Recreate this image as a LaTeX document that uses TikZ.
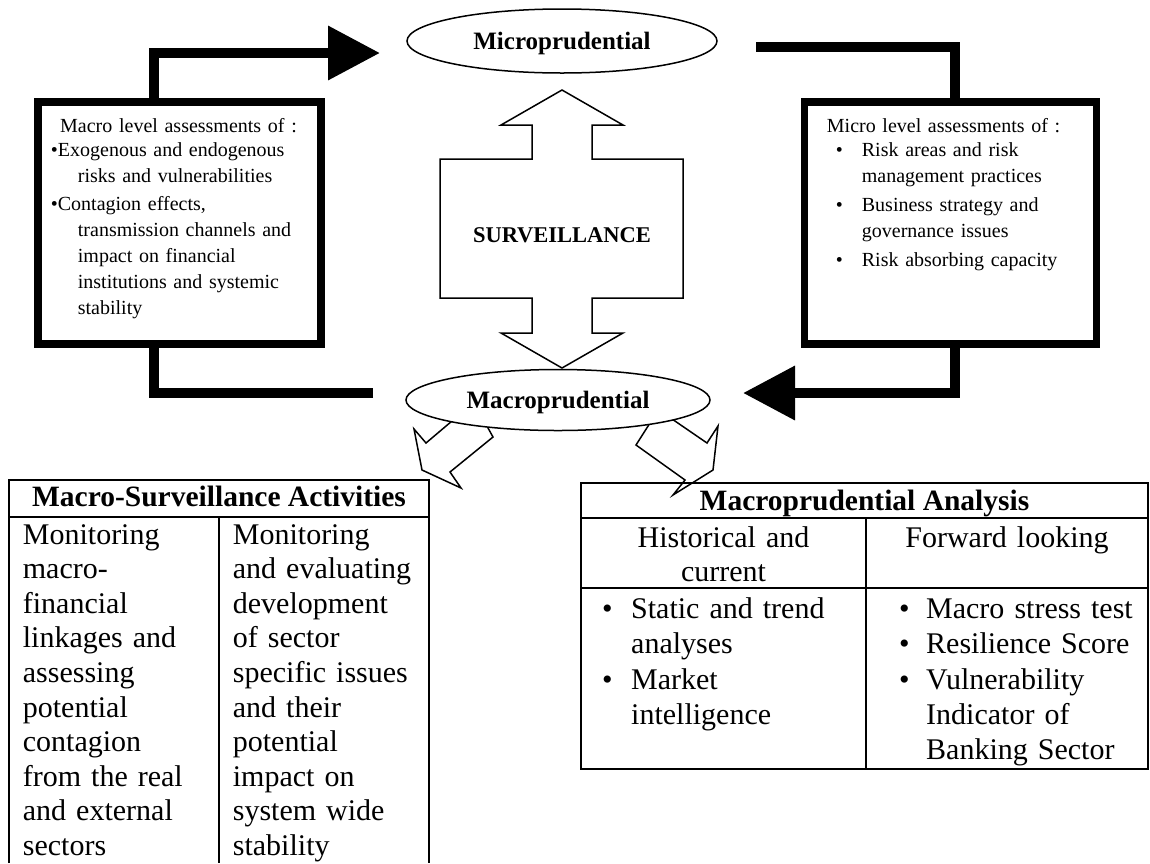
\documentclass[tikz,border=0pt]{standalone}
\usepackage{fontspec}
\setmainfont{Liberation Serif}
\usetikzlibrary{arrows.meta,shapes.geometric}

\begin{document}
\begin{tikzpicture}[x=1pt,y=-1pt,
	assessbox/.style={draw,line width=7.5pt,inner sep=0pt,outer sep=0pt},
	prudoval/.style={draw,ellipse,line width=1.5pt,fill=white,inner sep=0pt,text depth=0pt,font=\fontsize{25}{30}\selectfont\bfseries},
	feedline/.style={line width=10pt},
	bigtip/.style={-{Triangle[length=52pt,width=52pt]}},
	blockarrow/.style={draw,line width=1.5pt,fill=white,line join=miter},
	tableline/.style={line width=2pt},
	boxtext/.style={anchor=base west,inner sep=0pt,text width=#1,align=left,font=\fontsize{20}{26}\selectfont},
	celltext/.style={anchor=base west,inner sep=0pt,text width=#1,align=left,font=\fontsize{30}{34.6}\selectfont},
	headtext/.style={anchor=base,inner sep=0pt,font=\fontsize{29.5}{34}\selectfont\bfseries}]
	\path[use as bounding box,fill=white] (0,0) rectangle (1150,863);
	% Assessment boxes
	\node[assessbox,minimum width=283pt,minimum height=242pt] (macrobox) at (179.5,223) {};
	\node[assessbox,minimum width=292pt,minimum height=242pt] (microbox) at (950.5,223) {};
	\node[boxtext=265pt] (macrotext) at (50.7,132.7) {\hspace*{9.3pt}Macro level assessments of :\\[-2pt]
		•Exogenous and endogenous\\
		\hspace*{27pt}risks and vulnerabilities\\[1.7pt]
		•Contagion effects,\\
		\hspace*{27pt}transmission channels and\\
		\hspace*{27pt}impact on financial\\
		\hspace*{27pt}institutions and systemic\\
		\hspace*{27pt}stability};
	\node[boxtext=260pt] (microtext) at (826.7,132.7) {Micro level assessments of :\\[-2pt]
		\makebox[35pt][l]{\hspace*{9pt}•}Risk areas and risk\\
		\hspace*{35pt}management practices\\[2.5pt]
		\makebox[35pt][l]{\hspace*{9pt}•}Business strategy and\\
		\hspace*{35pt}governance issues\\[3pt]
		\makebox[35pt][l]{\hspace*{9pt}•}Risk absorbing capacity};
	% Surveillance arrow
	\draw[blockarrow] (562,90) -- (623,125) -- (592,125) -- (592,159) -- (683,159) -- (683,298)
		-- (592,298) -- (592,333) -- (623,333) -- (562,368) -- (501,333) -- (532,333) -- (532,298)
		-- (440,298) -- (440,159) -- (532,159) -- (532,125) -- (501,125) -- cycle;
	\node[font=\fontsize{22.5}{27}\selectfont\bfseries] (surv) at (562,235.5) {SURVEILLANCE};
	% Arrows to the tables
	\draw[blockarrow] (458.5,415.5) -- (426,443) -- (414,429) -- (422,470) -- (461,488) -- (450,472)
		-- (493,437) -- (485,422.6) -- cycle;
	\draw[blockarrow] (661.5,411.8) -- (707,443) -- (718,426) -- (713,470) -- (673,495) -- (685,480)
		-- (636,445) -- (655.6,414.2) -- cycle;
	% Ellipses
	\node[prudoval,minimum width=310pt,minimum height=64pt] (micro) at (562,41) {Microprudential};
	\node[prudoval,minimum width=304pt,minimum height=61pt] (macro) at (558,400) {Macroprudential};
	% Feedback loop
	\coordinate (lbend) at (154,53);
	\coordinate (mictip) at (380,53);
	\coordinate (lbend2) at (154,393);
	\coordinate (macend) at (373,393);
	\coordinate (micend) at (756,47);
	\coordinate (rbend) at (955,47);
	\coordinate (rbend2) at (955,393);
	\coordinate (mactip) at (743,393);
	\draw[feedline,bigtip] (macrobox.north -| lbend) -- (lbend) -- (mictip);
	\draw[feedline] (macend) -- (lbend2) -- (macrobox.south -| lbend2);
	\draw[feedline] (micend) -- (rbend) -- (microbox.north -| rbend);
	\draw[feedline,bigtip] (microbox.south -| rbend2) -- (rbend2) -- (mactip);
	% Macro-Surveillance table
	\draw[tableline] (9.3,863) -- (9.3,480) -- (429,480) -- (429,863);
	\draw[tableline] (9.3,516.7) -- (429,516.7);
	\draw[tableline] (219,516.7) -- (219,863);
	\node[headtext] (survhead) at (219,506.7) {Macro-Surveillance Activities};
	\node[celltext=190pt] (linkages) at (22.7,544) {Monitoring\\ macro-\\ financial\\ linkages and\\ assessing\\ potential\\ contagion\\ from the real\\ and external\\ sectors};
	\node[celltext=190pt] (sectoral) at (232.7,544) {Monitoring\\ and evaluating\\ development\\ of sector\\ specific issues\\ and their\\ potential\\ impact on\\ system wide\\ stability};
	% Macroprudential table
	\draw[tableline] (581,483) rectangle (1148,769);
	\draw[tableline] (581,518) -- (1148,518);
	\draw[tableline] (581,588) -- (1148,588);
	\draw[tableline] (866,518) -- (866,769);
	\node[headtext] (analysishead) at (864.5,510) {Macroprudential Analysis};
	\node[celltext=270pt,align=center,anchor=base] (histhead) at (723.5,547) {Historical and\\ current};
	\node[celltext=270pt,align=center,anchor=base] (fwdhead) at (1007,547) {Forward looking};
	\node[celltext=250pt,font=\fontsize{30}{35.3}\selectfont] (histlist) at (602,618.5) {\makebox[29pt][l]{•}Static and trend\\
		\hspace*{29pt}analyses\\
		\makebox[29pt][l]{•}Market\\
		\hspace*{29pt}intelligence};
	\node[celltext=240pt,font=\fontsize{30}{35.3}\selectfont] (fwdlist) at (899,618.5) {\makebox[27pt][l]{•}Macro stress test\\
		\makebox[27pt][l]{•}Resilience Score\\
		\makebox[27pt][l]{•}Vulnerability\\
		\hspace*{27pt}Indicator of\\
		\hspace*{27pt}Banking Sector};
\end{tikzpicture}
\end{document}
